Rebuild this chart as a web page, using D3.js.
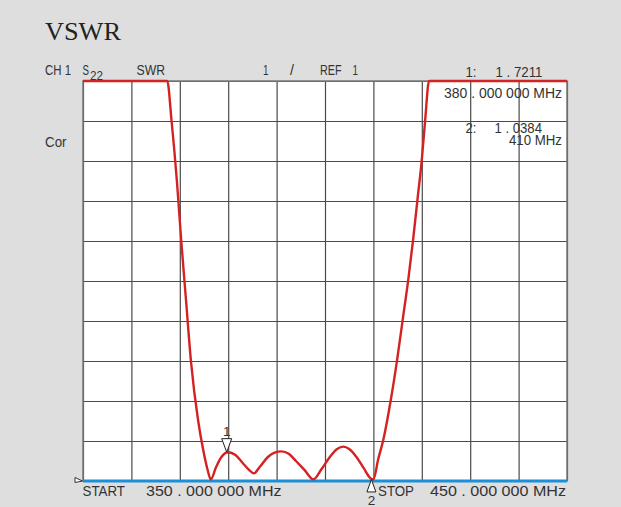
<!DOCTYPE html>
<html><head><meta charset="utf-8">
<script src="https://cdn.jsdelivr.net/npm/d3@7"></script>
<style>
html,body{margin:0;padding:0;background:#dedede;}
svg{display:block;}
.lbl{font-family:"Liberation Sans",Arial,sans-serif;fill:#333;}
</style></head>
<body>
<svg id="chart" width="621" height="507"></svg>
<script>
// ---- data ----
const freqMHz = [350, 367.4, 368.3, 369.4, 370.3, 371.3, 372.3, 373.8, 374.8, 375.7, 376.4,
  377.5, 378.6, 380, 381.5, 383, 384.3, 385.3,
  386.5, 388.2, 389.6, 391, 392.5, 394, 395.8, 397.6,
  399.3, 401, 402.5, 403.8, 405, 406.5, 408, 409.3, 410,
  411, 412.05, 413.6, 414.9, 416.05, 417.2, 418.2, 419.1, 420.0, 420.7, 421.5, 450];
const vswr = [11, 11, 10.0, 8.5, 7.0, 5.5, 4.0, 2.5, 1.8, 1.3, 1.04,
  1.35, 1.6, 1.72, 1.65, 1.45, 1.28, 1.19,
  1.35, 1.6, 1.71, 1.74, 1.68, 1.5, 1.27, 1.04,
  1.3, 1.6, 1.8, 1.86, 1.8, 1.6, 1.32, 1.08, 1.04,
  1.55, 2.03, 3.03, 4.03, 5.03, 6.03, 7.03, 8.03, 9.03, 10.03, 11, 11];
const markerNames = ["1", "2"];
const markerFreq = [380, 410];
const markerValue = ["1 . 7211", "1 . 0384"];
const markerFreqLabel = ["380 . 000  000 MHz", "410 MHz"];
const startLabel = "350 . 000 000 MHz";
const stopLabel = "450 . 000 000 MHz";
const refValue = 1, scalePerDiv = 1, divisions = 10;

// ---- layout ----
const svg = d3.select("#chart");
const L = 83, R = 567, T = 81, B = 481;
const FS = 14.5;
const x = d3.scaleLinear().domain([350, 450]).range([L, R]);
const y = d3.scaleLinear().domain([refValue, refValue + scalePerDiv * divisions]).range([B, T]);

svg.append("rect").attr("width", 621).attr("height", 507).attr("fill", "#dedede");
svg.append("rect").attr("x", L).attr("y", T).attr("width", R - L).attr("height", B - T).attr("fill", "#fff");

// grid via axes
const gx = svg.append("g").attr("transform", `translate(0,${B})`)
  .call(d3.axisBottom(x).ticks(10).tickSize(-(B - T)).tickFormat(""));
gx.select(".domain").remove();
gx.selectAll("line").attr("stroke", "#4a4a4a").attr("stroke-width", 1.2);
const gy = svg.append("g").attr("transform", `translate(${L},0)`)
  .call(d3.axisLeft(y).ticks(10).tickSize(-(R - L)).tickFormat(""));
gy.select(".domain").remove();
gy.selectAll("line").attr("stroke", "#4a4a4a").attr("stroke-width", 1.2);
// border
svg.append("rect").attr("x", L).attr("y", T).attr("width", R - L).attr("height", B - T)
  .attr("fill", "none").attr("stroke", "#7a7a7a").attr("stroke-width", 1.5);

// blue reference line at bottom
svg.append("line").attr("x1", L).attr("x2", R).attr("y1", y(refValue)).attr("y2", y(refValue))
  .attr("stroke", "#1b8fd8").attr("stroke-width", 3);

// trace
svg.append("clipPath").attr("id", "clip").append("rect")
  .attr("x", L).attr("y", T - 2).attr("width", R - L).attr("height", B - T + 4);
const pts = freqMHz.map((f, i) => [f, vswr[i]]);
svg.append("path").datum(pts).attr("clip-path", "url(#clip)")
  .attr("d", d3.line().x(d => x(d[0])).y(d => y(d[1])).curve(d3.curveMonotoneX))
  .attr("fill", "none").attr("stroke", "#d42222").attr("stroke-width", 2.4)
  .attr("stroke-linejoin", "round");

// text helper
function txt(s, xx, yy, size, w, anchor) {
  const t = svg.append("text").attr("class", "lbl").attr("x", xx).attr("y", yy)
    .attr("font-size", size).text(s);
  if (anchor) t.attr("text-anchor", anchor);
  if (w) t.attr("textLength", w).attr("lengthAdjust", "spacingAndGlyphs");
  return t;
}

// title
svg.append("text").attr("x", 45).attr("y", 40).attr("font-family", "'Liberation Serif','Times New Roman',serif")
  .attr("font-size", 26).attr("fill", "#222").attr("textLength", 76).attr("lengthAdjust", "spacingAndGlyphs").text("VSWR");

txt("CH 1", 45, 75, FS, 26);
txt("S", 82.5, 75, FS, 6.5);
txt("22", 90, 79.5, 13.5, 13);
txt("SWR", 136.5, 75, FS, 28.5);
txt(String(scalePerDiv), 263, 75, FS, 5.5);
txt("/", 290, 75, FS, 4);
txt("REF", 320, 75, FS, 21.5);
txt(String(refValue), 352.5, 75, FS, 5.5);
txt("Cor", 45, 147, FS, 21.5);

// marker readouts
txt(markerNames[0] + ":", 465.5, 76.5, FS, 11);
txt(markerValue[0], 495.5, 76.5, FS, 47);
txt(markerFreqLabel[0], 444, 98, FS, 118);
txt(markerNames[1] + ":", 465.5, 132.5, FS, 11);
txt(markerValue[1], 494.5, 132.5, FS, 47.5);
txt(markerFreqLabel[1], 509, 145, FS, 53);

// bottom labels
txt("START", 82.5, 496, FS, 42.5);
txt(startLabel, 146, 496, FS, 135.5);
txt("STOP", 378, 496, FS, 36);
txt(stopLabel, 430, 496, FS, 136);

// marker 1 (down-pointing triangle above trace)
const m1x = x(markerFreq[0]) - 1.5, m1y = y(1.7211);
svg.append("path").attr("d", `M${m1x - 5},${m1y - 13.5} L${m1x + 5},${m1y - 13.5} L${m1x},${m1y} Z`)
  .attr("fill", "#fff").attr("stroke", "#222").attr("stroke-width", 1);
txt(markerNames[0], m1x, m1y - 16, 13.5, null, "middle");

// marker 2 (up-pointing triangle below trace)
const m2x = x(markerFreq[1]) - 2, m2y = y(1.0384);
svg.append("path").attr("d", `M${m2x},${m2y} L${m2x + 4.5},${m2y + 12.5} L${m2x - 4.5},${m2y + 12.5} Z`)
  .attr("fill", "#fff").attr("stroke", "#222").attr("stroke-width", 1);
txt(markerNames[1], m2x, 505, 13.5, null, "middle");

// reference position marker at left
svg.append("path").attr("d", `M${L - 8},${B - 3.5} L${L - 0.5},${B} L${L - 8},${B + 1.5} Z`)
  .attr("fill", "#fff").attr("stroke", "#333").attr("stroke-width", 1);
</script>
</body></html>
